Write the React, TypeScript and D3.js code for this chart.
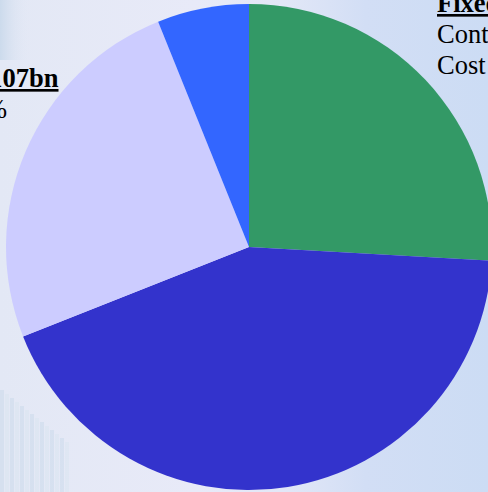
import React from "react";
import * as d3 from "d3";

const categories = ["Fixed Contract Cost", "Other Costs", "Variable Cost", "Contingency"];
const values = [25.9, 43.1, 24.9, 6.1];
const colors = ["#339966", "#3333CC", "#CCCCFF", "#3366FF"];
const leftLabel = ["£107bn", "25%"];
const rightLabel = ["Fixed", "Contract", "Cost"];

const W = 488;
const H = 492;
const cx = 249;
const cy = 247;
const R = 243;

export default function App() {
  const pie = d3
    .pie<number>()
    .sort(null)
    .value((d) => d)
    .startAngle(0)
    .endAngle(2 * Math.PI);
  const arcs = pie(values);
  const arc = d3.arc<d3.PieArcDatum<number>>().innerRadius(0).outerRadius(R);
  const font = "'Liberation Serif', 'Times New Roman', serif";

  const stripes = d3.range(0, 14).map((i) => i);

  return (
    <div style={{ position: "fixed", left: 0, top: 0 }}>
      <svg width={W} height={H} style={{ display: "block" }}>
        <defs>
          <linearGradient id="bg" x1="0" y1="0" x2="1" y2="0">
            <stop offset="0" stopColor="#E3E8F5" />
            <stop offset="0.4" stopColor="#E8EAF8" />
            <stop offset="0.58" stopColor="#E2E7F7" />
            <stop offset="0.75" stopColor="#D2DEF5" />
            <stop offset="1" stopColor="#CCDCF4" />
          </linearGradient>
          <linearGradient id="tex" x1="0" y1="0" x2="1" y2="0">
            <stop offset="0" stopColor="#B8CFE4" stopOpacity="0.9" />
            <stop offset="1" stopColor="#E3E8F5" stopOpacity="0" />
          </linearGradient>
        </defs>
        <rect x={0} y={0} width={W} height={H} fill="url(#bg)" />
        <rect x={0} y={0} width={30} height={60} fill="url(#tex)" opacity={0.6} />
        {stripes.map((i) => (
          <rect
            key={i}
            x={i * 5}
            y={390 + i * 4}
            width={4}
            height={H - (390 + i * 4)}
            fill={i % 2 === 0 ? "#C6D8E8" : "#D6E4F0"}
            opacity={0.45}
          />
        ))}
        <g transform={`translate(${cx},${cy})`}>
          {arcs.map((a, i) => (
            <path key={categories[i]} d={arc(a) || ""} fill={colors[i]} />
          ))}
        </g>
        <g fontFamily={font} fontSize={26.5} fill="#000">
          <text
            x={58.5}
            y={87}
            textAnchor="end"
            fontWeight="bold"
            textDecoration="underline"
          >
            {leftLabel[0]}
          </text>
          <text x={7} y={118} textAnchor="end">
            {leftLabel[1]}
          </text>
          <text x={437} y={12} fontWeight="bold" textDecoration="underline">
            {rightLabel[0]}
          </text>
          <text x={437} y={43}>
            {rightLabel[1]}
          </text>
          <text x={437} y={74}>
            {rightLabel[2]}
          </text>
        </g>
      </svg>
    </div>
  );
}
